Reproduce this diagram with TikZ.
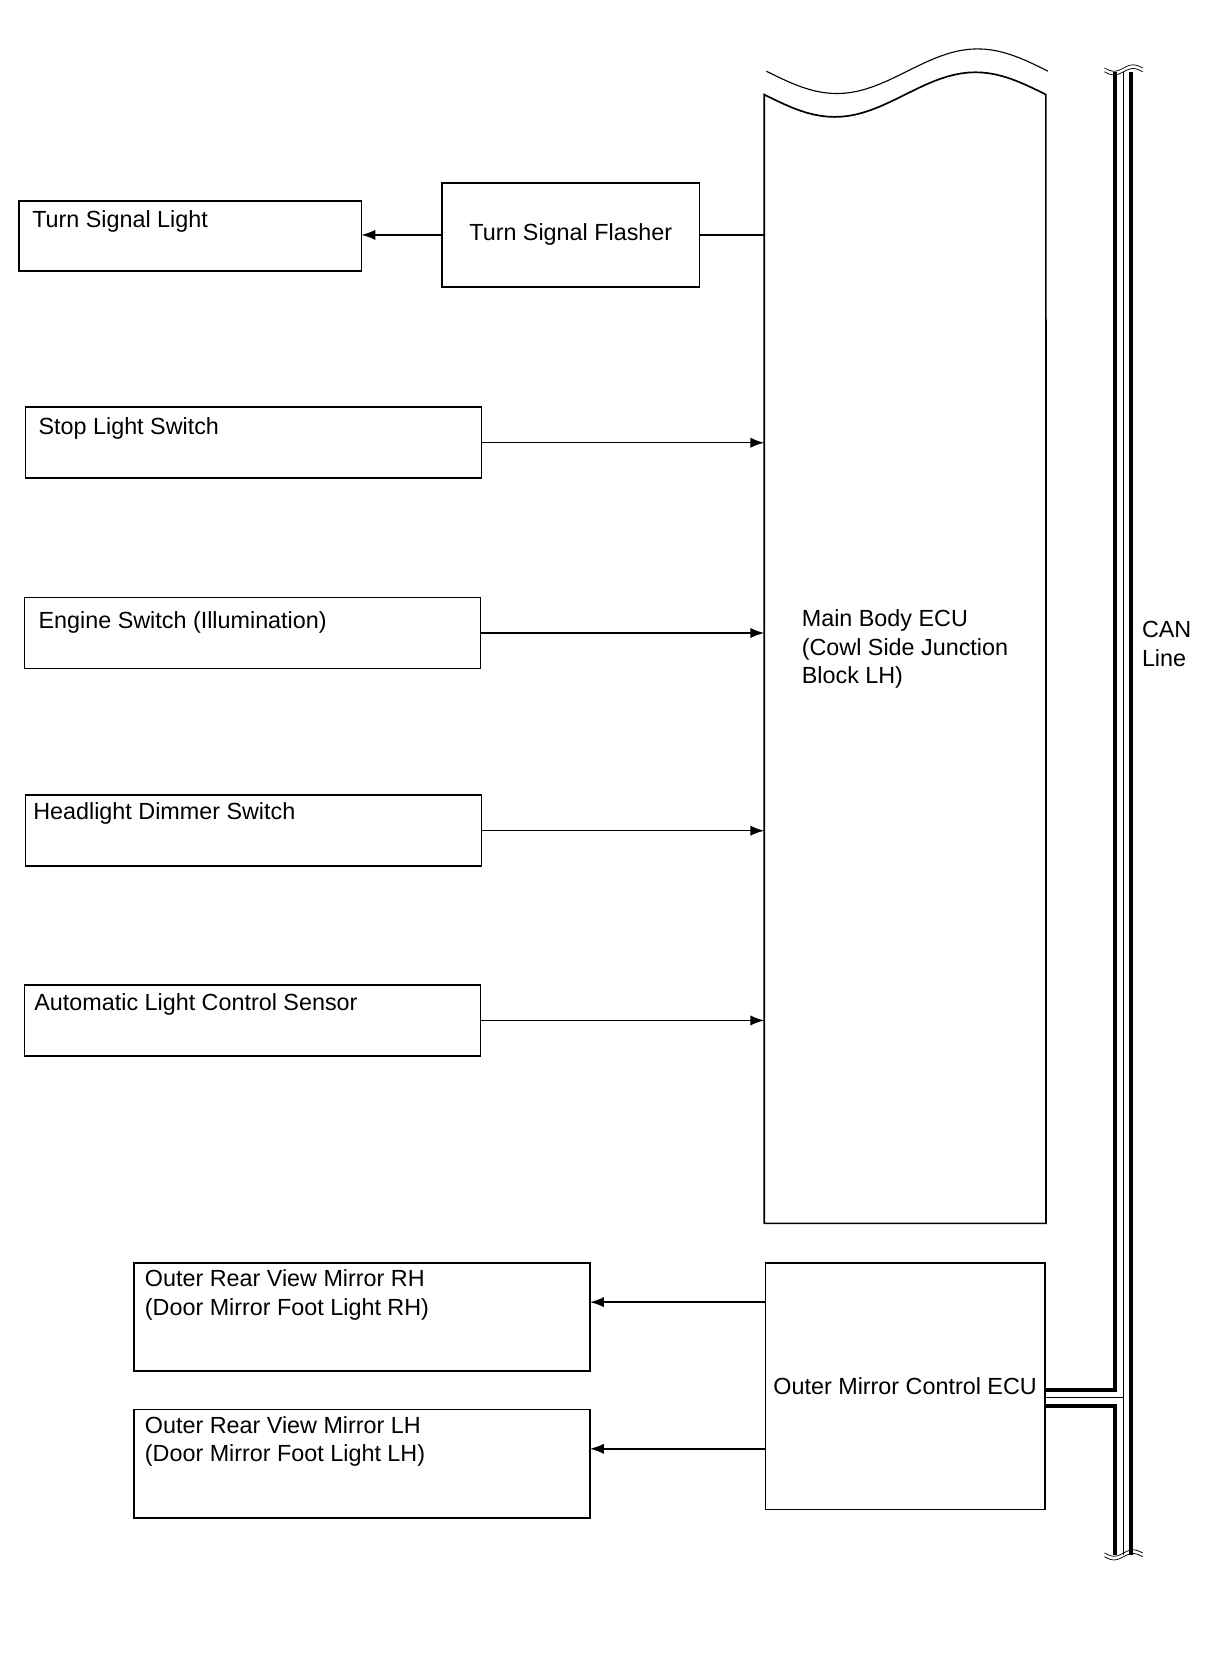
\documentclass[tikz,border=0pt]{standalone}
\usepackage{fontspec}
\setmainfont{Liberation Sans}
\usetikzlibrary{shapes,arrows.meta,positioning,calc}

\begin{document}
\begin{tikzpicture}[x=0.02cm, y=-0.02cm,
  font=\fontsize{12.5}{15.4}\selectfont,
  box/.style={rectangle, draw, line width=0.9pt, inner sep=0pt, outer sep=0pt},
  swbox/.style={box, minimum width=8.58cm, minimum height=1.34cm},
  mirbox/.style={box, minimum width=8.58cm, minimum height=2.04cm},
  lbl/.style={inner sep=0pt, anchor=base west},
  lbls/.style={inner sep=0pt, anchor=north west, align=left},
  sig/.style={-{Latex[length=7.5pt,width=5.5pt]}, line width=0.8pt},
  wire/.style={line width=0.8pt}]
\useasboundingbox (0,0) rectangle (1138.3,1569.2);

% Turn signal
\node[box, minimum width=6.44cm, minimum height=1.32cm] (tsl) at (179,222) {};
\node[lbl] (tsltxt) at (30,214) {Turn Signal Light};
\node[box, minimum width=4.84cm, minimum height=1.96cm] (tsf) at (537,221) {Turn Signal Flasher};

% Main Body ECU
\node[minimum width=5.3cm, minimum height=21.24cm, inner sep=0pt, outer sep=0pt] (ecu) at (851.5,620) {};
\draw[box] plot[domain=0:1, samples=41] ({719+265*\x},{89+21*sin(360*\x)}) -- (ecu.south east) -- (ecu.south west) -- cycle;
\draw[line width=0.6pt] plot[domain=0:1, samples=41] ({721+265*\x},{67+21*sin(360*\x)});
\node[lbls] (ecutxt) at (754,573) {Main Body ECU\\(Cowl Side Junction\\Block LH)};

% Switches and sensor
\node[swbox] (stop) at (238.5,416.5) {};
\node[lbl] (stoptxt) at (36,409) {Stop Light Switch};
\node[swbox] (eng) at (237.5,595.5) {};
\node[lbl] (engtxt) at (36,591) {Engine Switch (Illumination)};
\node[swbox] (dim) at (238.5,781.5) {};
\node[lbl] (dimtxt) at (31,771) {Headlight Dimmer Switch};
\node[swbox] (auto) at (237.5,960) {};
\node[lbl] (autotxt) at (32,951) {Automatic Light Control Sensor};

% Outer mirrors
\node[mirbox] (rh) at (340.5,1239) {};
\node[lbls] (rhtxt) at (136,1194) {Outer Rear View Mirror RH\\(Door Mirror Foot Light RH)};
\node[mirbox] (lh) at (340.5,1377) {};
\node[lbls] (lhtxt) at (136,1332) {Outer Rear View Mirror LH\\(Door Mirror Foot Light LH)};
\node[box, minimum width=5.26cm, minimum height=4.64cm] (omc) at (851.5,1304) {Outer Mirror Control ECU};

% Connections
\draw[sig] (tsf.west) -- (tsf.west -| tsl.east);
\draw[wire] (tsf.east) -- (tsf.east -| ecu.west);
\foreach \sw in {stop,eng,dim,auto}
  \draw[sig] (\sw.east) -- (\sw.east -| ecu.west);
\coordinate (rhin) at (555,1225);
\coordinate (lhin) at (555,1363);
\draw[sig] (omc.west |- rhin) -- (rhin);
\draw[sig] (omc.west |- lhin) -- (lhin);

% CAN line
\coordinate (cantop) at (1056.5,68);
\coordinate (canbot) at (1056.5,1463);
\coordinate (canjoin) at (1056.5,1315);
\coordinate (canstub) at ($(omc.east |- canjoin)+(0.8,0)$);
\draw[line width=0.376cm] (cantop) -- (canbot);
\draw[line width=0.376cm] (canstub) -- (canjoin);
\draw[white, line width=0.226cm] (cantop) -- (canbot);
\draw[white, line width=0.226cm] (canstub) -- (canjoin);
\draw[line width=0.5pt] (cantop) -- (canbot);
\draw[line width=0.5pt] (canstub) -- (canjoin);
\foreach \yy in {64,67.5,1461,1464.5}
  \draw[line width=0.4pt] plot[domain=0:1, samples=25] ({1039+36*\x},{\yy+3*sin(360*\x)});
\node[lbls] (cantxt) at (1074,584) {CAN\\Line};
\end{tikzpicture}
\end{document}
